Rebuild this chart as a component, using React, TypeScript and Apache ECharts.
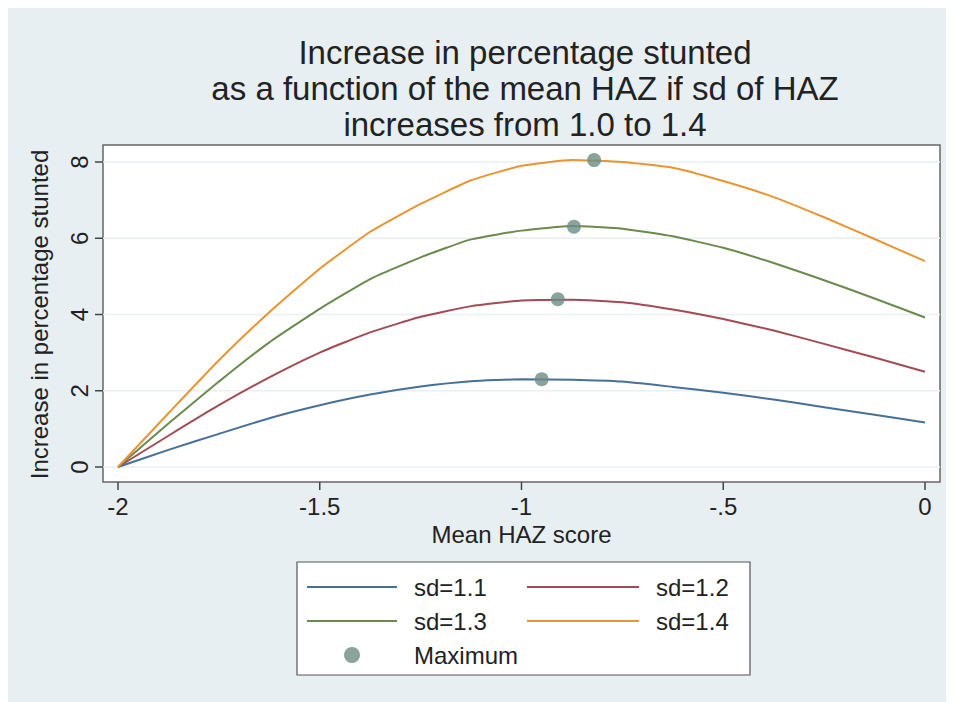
import { useEffect, useRef } from 'react';
import * as echarts from 'echarts';

const xValues = [-2, -1.875, -1.75, -1.625, -1.5, -1.375, -1.25, -1.125, -1, -0.875, -0.75, -0.625, -0.5, -0.375, -0.25, -0.125, 0];
const sd11 = [0, 0.45, 0.87, 1.28, 1.62, 1.9, 2.11, 2.25, 2.3, 2.29, 2.24, 2.1, 1.95, 1.77, 1.57, 1.37, 1.17];
const sd12 = [0, 0.82, 1.62, 2.35, 3.0, 3.53, 3.94, 4.22, 4.37, 4.39, 4.32, 4.13, 3.88, 3.58, 3.23, 2.87, 2.5];
const sd13 = [0, 1.14, 2.24, 3.27, 4.15, 4.93, 5.5, 5.97, 6.2, 6.32, 6.25, 6.05, 5.75, 5.35, 4.9, 4.42, 3.92];
const sd14 = [0, 1.41, 2.8, 4.06, 5.2, 6.17, 6.9, 7.52, 7.9, 8.05, 8.0, 7.85, 7.5, 7.08, 6.55, 5.98, 5.4];
const maxima = [
  [-0.95, 2.3],
  [-0.91, 4.4],
  [-0.87, 6.3],
  [-0.82, 8.05],
];
const xTicks = [-2, -1.5, -1, -0.5, 0];
const xTickLabels = ['-2', '-1.5', '-1', '-.5', '0'];
const yTicks = [0, 2, 4, 6, 8];

const colors = ['#46709a', '#a24b55', '#6b8a4c', '#ea9430'];
const font = 'Liberation Sans, Arial, sans-serif';

export default function App() {
  const chartRef = useRef<HTMLDivElement>(null);

  useEffect(() => {
    if (!chartRef.current) return;
    const chart = echarts.init(chartRef.current, null, { renderer: 'svg' });
    const pair = (ys: number[]) => xValues.map((x, i) => [x, ys[i]]);
    const lineSeries = (name: string, ys: number[], color: string) => ({
      name,
      type: 'line',
      data: pair(ys),
      smooth: 0.15,
      symbol: 'none',
      clip: false,
      lineStyle: { color, width: 2 },
      itemStyle: { color },
    });
    const lineItem = (name: string) => ({ name, itemStyle: { opacity: 0 } });
    const legendText = { fontFamily: font, fontSize: 24, color: '#222', padding: [0, 0, 0, 12] };

    const plotBox = { x: 95, y: 137, width: 837, height: 337 };

    chart.setOption({
      animation: false,
      backgroundColor: '#e8eff2',
      textStyle: { fontFamily: font },
      title: {
        text: 'Increase in percentage stunted\nas a function of the mean HAZ if sd of HAZ\nincreases from 1.0 to 1.4',
        left: 512,
        textAlign: 'center',
        top: 21,
        textStyle: { fontFamily: font, fontSize: 33, fontWeight: 'normal', color: '#222', lineHeight: 36 },
      },
      graphic: [
        {
          type: 'rect',
          shape: plotBox,
          style: { fill: '#fff', stroke: '#666', lineWidth: 1.5 },
          z: -10,
        },
        {
          type: 'rect',
          shape: { x: 289, y: 554, width: 453, height: 113 },
          style: { fill: '#fff', stroke: '#555', lineWidth: 1.2 },
          z: -10,
        },
      ],
      legend: [
        {
          orient: 'vertical',
          left: 293,
          top: 562,
          itemWidth: 90,
          itemHeight: 16,
          itemGap: 10,
          data: [lineItem('sd=1.1'), lineItem('sd=1.3'), 'Maximum'],
          textStyle: legendText,
        },
        {
          orient: 'vertical',
          left: 513,
          top: 562,
          itemWidth: 112,
          itemHeight: 16,
          itemGap: 10,
          data: [lineItem('sd=1.2'), lineItem('sd=1.4')],
          textStyle: legendText,
        },
      ],
      grid: { left: 110, top: 154, width: 807, height: 305 },
      xAxis: {
        type: 'value',
        min: -2,
        max: 0,
        interval: 0.5,
        offset: 15,
        name: 'Mean HAZ score',
        nameLocation: 'middle',
        nameGap: 40,
        nameTextStyle: { fontFamily: font, fontSize: 24, color: '#222' },
        axisLine: { show: false, onZero: false },
        axisTick: { show: false },
        axisLabel: {
          fontSize: 24,
          color: '#222',
          margin: 12,
          formatter: (v: number) => xTickLabels[xTicks.indexOf(v)] ?? String(v),
        },
        splitLine: { show: false },
      },
      yAxis: {
        type: 'value',
        min: 0,
        max: 8,
        interval: 2,
        offset: 15,
        name: 'Increase in percentage stunted',
        nameLocation: 'middle',
        nameGap: 52,
        nameTextStyle: { fontFamily: font, fontSize: 24, color: '#222' },
        axisLine: { show: false, onZero: false },
        axisTick: { show: false },
        axisLabel: { fontSize: 24, color: '#222', rotate: 90, margin: 12 },
        splitLine: { show: false },
      },
      series: [
        lineSeries('sd=1.1', sd11, colors[0]),
        lineSeries('sd=1.2', sd12, colors[1]),
        lineSeries('sd=1.3', sd13, colors[2]),
        lineSeries('sd=1.4', sd14, colors[3]),
        {
          name: 'Maximum',
          type: 'scatter',
          data: maxima,
          symbol: 'circle',
          symbolSize: 14,
          clip: false,
          itemStyle: { color: '#6a8d85' },
          z: 5,
        },
      ],
    });

    // ticks and grid lines placed through the axis scales
    const tickStyle = { stroke: '#444', lineWidth: 1.5 };
    const left = plotBox.x;
    const right = plotBox.x + plotBox.width;
    const bottom = plotBox.y + plotBox.height;
    const extra: any[] = [];
    yTicks.forEach((v) => {
      const py = chart.convertToPixel({ yAxisIndex: 0 }, v) as number;
      extra.push({ type: 'line', shape: { x1: left - 8, y1: py, x2: left, y2: py }, style: tickStyle });
      extra.push({ type: 'line', shape: { x1: left, y1: py, x2: right, y2: py }, style: { stroke: '#e8f0f2', lineWidth: 1.5 }, z: -5 });
    });
    xTicks.forEach((v) => {
      const px = chart.convertToPixel({ xAxisIndex: 0 }, v) as number;
      extra.push({ type: 'line', shape: { x1: px, y1: bottom, x2: px, y2: bottom + 8 }, style: tickStyle });
    });
    chart.setOption({
      graphic: [
        { type: 'rect', shape: plotBox, style: { fill: '#fff', stroke: '#666', lineWidth: 1.5 }, z: -10 },
        { type: 'rect', shape: { x: 289, y: 554, width: 453, height: 113 }, style: { fill: '#fff', stroke: '#555', lineWidth: 1.2 }, z: -10 },
        ...extra,
      ],
    }, { replaceMerge: ['graphic'] });

    return () => chart.dispose();
  }, []);

  return <div ref={chartRef} style={{ width: 938, height: 694 }} />;
}
